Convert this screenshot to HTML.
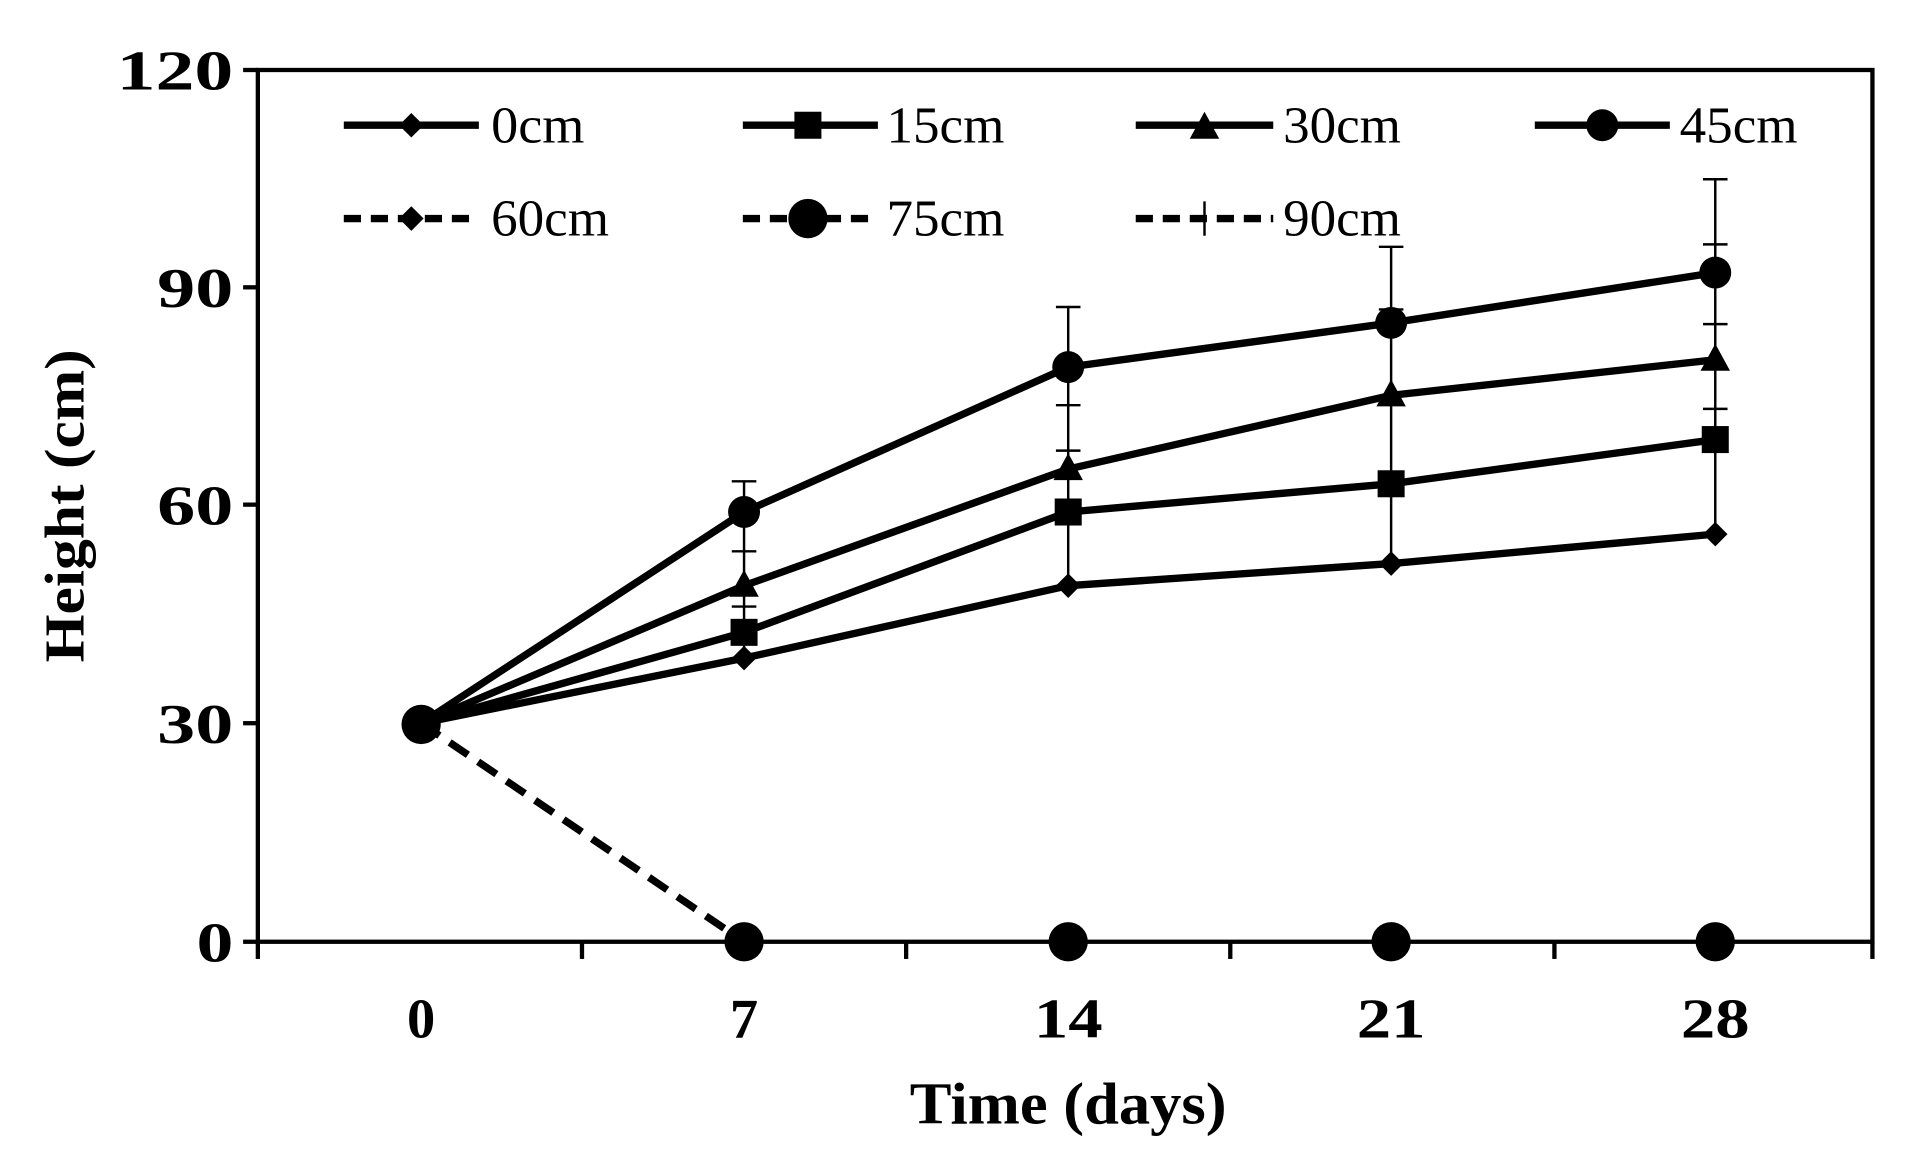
<!DOCTYPE html>
<html><head><meta charset="utf-8"><style>html,body{margin:0;padding:0;background:#fff}svg{display:block}</style></head>
<body>
<svg width="1924" height="1164" viewBox="0 0 1567 948" preserveAspectRatio="none" xmlns="http://www.w3.org/2000/svg" font-family="Liberation Serif, serif">
<defs>
<path id="dia" d="M0,-10 L10,0 L0,10 L-10,0Z"/>
<rect id="sq" x="-11" y="-11" width="22" height="22"/>
<path id="tri" d="M0,-13 L12,9 L-12,9Z"/>
<circle id="cir" r="13"/>
<circle id="bcir" r="16"/>
</defs>
<rect x="210" y="57" width="1315" height="710" fill="none" stroke="#000" stroke-width="3.5"/>
<g stroke="#000" stroke-width="3.5">
<line x1="198" y1="57" x2="210" y2="57"/><line x1="198" y1="234" x2="210" y2="234"/><line x1="198" y1="411" x2="210" y2="411"/><line x1="198" y1="589" x2="210" y2="589"/><line x1="198" y1="767" x2="210" y2="767"/>
<line x1="210" y1="767" x2="210" y2="781"/><line x1="474" y1="767" x2="474" y2="781"/><line x1="738" y1="767" x2="738" y2="781"/><line x1="1002" y1="767" x2="1002" y2="781"/><line x1="1266" y1="767" x2="1266" y2="781"/><line x1="1525" y1="767" x2="1525" y2="781"/>
</g>
<g font-weight="bold" font-size="46" text-anchor="end">
<text x="190" y="73" textLength="95" lengthAdjust="spacingAndGlyphs">120</text><text x="190" y="250" textLength="62" lengthAdjust="spacingAndGlyphs">90</text><text x="190" y="427" textLength="62" lengthAdjust="spacingAndGlyphs">60</text><text x="190" y="605" textLength="62" lengthAdjust="spacingAndGlyphs">30</text><text x="190" y="783" textLength="30" lengthAdjust="spacingAndGlyphs">0</text>
</g>
<g font-weight="bold" font-size="46" text-anchor="middle">
<text x="343" y="845">0</text><text x="606" y="845">7</text><text x="870" y="845" textLength="56" lengthAdjust="spacingAndGlyphs">14</text><text x="1133" y="845" textLength="56" lengthAdjust="spacingAndGlyphs">21</text><text x="1397" y="845" textLength="56" lengthAdjust="spacingAndGlyphs">28</text>
<text x="870" y="915" font-size="48" textLength="258" lengthAdjust="spacingAndGlyphs">Time (days)</text>
<text transform="translate(68,412) rotate(-90)" font-size="46" textLength="255" lengthAdjust="spacingAndGlyphs">Height (cm)</text>
</g>
<g stroke="#000" stroke-width="2">
<line x1="606" y1="392" x2="606" y2="536"/><line x1="596" y1="392" x2="616" y2="392"/><line x1="596" y1="449" x2="616" y2="449"/><line x1="596" y1="494" x2="616" y2="494"/>
<line x1="870" y1="250" x2="870" y2="477"/><line x1="860" y1="250" x2="880" y2="250"/><line x1="860" y1="330" x2="880" y2="330"/><line x1="860" y1="367" x2="880" y2="367"/>
<line x1="1133" y1="201" x2="1133" y2="459"/><line x1="1123" y1="201" x2="1143" y2="201"/><line x1="1123" y1="252" x2="1143" y2="252"/>
<line x1="1397" y1="146" x2="1397" y2="435"/><line x1="1387" y1="146" x2="1407" y2="146"/><line x1="1387" y1="199" x2="1407" y2="199"/><line x1="1387" y1="264" x2="1407" y2="264"/><line x1="1387" y1="333" x2="1407" y2="333"/>
</g>
<g fill="none" stroke="#000" stroke-width="6" stroke-linejoin="round">
<polyline points="343,589 606,536 870,477 1133,459 1397,435"/>
<polyline points="343,589 606,515 870,417 1133,394 1397,358"/>
<polyline points="343,589 606,477 870,382 1133,322 1397,293"/>
<polyline points="343,589 606,417 870,299 1133,263 1397,222"/>
<polyline points="343,589 606,767" stroke-dasharray="18,10"/>
</g>
<g fill="#000">
<use href="#dia" x="606" y="536"/><use href="#dia" x="870" y="477"/><use href="#dia" x="1133" y="459"/><use href="#dia" x="1397" y="435"/>
<use href="#sq" x="606" y="515"/><use href="#sq" x="870" y="417"/><use href="#sq" x="1133" y="394"/><use href="#sq" x="1397" y="358"/>
<use href="#tri" x="606" y="477"/><use href="#tri" x="870" y="382"/><use href="#tri" x="1133" y="322"/><use href="#tri" x="1397" y="293"/>
<use href="#cir" x="606" y="417"/><use href="#cir" x="870" y="299"/><use href="#cir" x="1133" y="263"/><use href="#cir" x="1397" y="222"/>
<use href="#bcir" x="343" y="590"/>
<use href="#bcir" x="606" y="767"/><use href="#bcir" x="870" y="767"/><use href="#bcir" x="1133" y="767"/><use href="#bcir" x="1397" y="767"/>
</g>
<g stroke="#000" stroke-width="6">
<line x1="280" y1="102" x2="390" y2="102"/><line x1="605" y1="102" x2="715" y2="102"/><line x1="925" y1="102" x2="1037" y2="102"/><line x1="1250" y1="102" x2="1360" y2="102"/>
<g stroke-dasharray="14,8"><line x1="280" y1="178" x2="390" y2="178"/><line x1="605" y1="178" x2="715" y2="178"/><line x1="925" y1="178" x2="1037" y2="178"/></g>
<line x1="981" y1="164" x2="981" y2="192" stroke-width="2"/>
</g>
<g fill="#000">
<use href="#dia" x="335" y="102"/><use href="#sq" x="658" y="102"/><use href="#tri" x="981" y="104"/><use href="#cir" x="1305" y="102"/>
<use href="#dia" x="335" y="178"/><use href="#bcir" x="658" y="178"/>
</g>
<g font-size="42">
<text x="400" y="116" textLength="76" lengthAdjust="spacingAndGlyphs">0cm</text><text x="722" y="116" textLength="96" lengthAdjust="spacingAndGlyphs">15cm</text><text x="1045" y="116" textLength="96" lengthAdjust="spacingAndGlyphs">30cm</text><text x="1368" y="116" textLength="96" lengthAdjust="spacingAndGlyphs">45cm</text>
<text x="400" y="192" textLength="96" lengthAdjust="spacingAndGlyphs">60cm</text><text x="722" y="192" textLength="96" lengthAdjust="spacingAndGlyphs">75cm</text><text x="1045" y="192" textLength="96" lengthAdjust="spacingAndGlyphs">90cm</text>
</g>
</svg>
</body></html>
